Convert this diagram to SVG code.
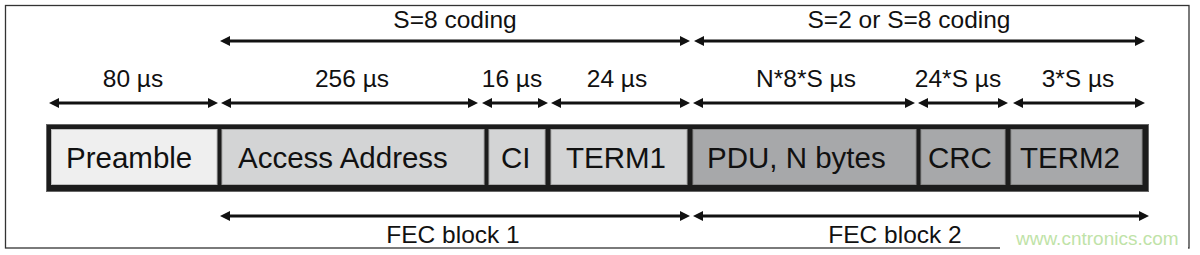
<svg xmlns="http://www.w3.org/2000/svg" width="1200" height="255" viewBox="0 0 1200 255">
<defs>
<marker id="ah" viewBox="0 0 10 10" refX="2" refY="5" markerWidth="10" markerHeight="10" markerUnits="userSpaceOnUse" orient="auto-start-reverse">
<path d="M0,0 L10,5 L0,10 z" fill="#111"/>
</marker>
<style>
.lbl{font-family:"Liberation Sans",Arial,sans-serif;font-size:24.5px;fill:#111;text-anchor:middle}
.cell{font-family:"Liberation Sans",Arial,sans-serif;font-size:29.5px;fill:#111}
.arr{stroke:#111;stroke-width:3;fill:none;marker-start:url(#ah);marker-end:url(#ah)}
.c1{fill:#efefef;stroke:#bdbdbd;stroke-width:1}
.c2{fill:#d3d4d5;stroke:#a9a9a9;stroke-width:1}
.c3{fill:#a7a8aa;stroke:#8a8a8a;stroke-width:1}
</style>
</defs>
<rect x="0" y="0" width="1200" height="255" fill="#fff"/>
<rect x="5.5" y="5.5" width="1183.5" height="242.5" fill="#fff" stroke="#333" stroke-width="1.3"/>

<rect x="46.5" y="124.5" width="1102" height="67" fill="#1c1c1c" stroke="#666" stroke-width="1"/>

<g id="preamble"><rect class="c1" x="51.5" y="129.5" width="165.5" height="55"/><text class="cell" x="66" y="168">Preamble</text></g>
<g id="access-address"><rect class="c2" x="222" y="129.5" width="262" height="55"/><text class="cell" x="238" y="168">Access Address</text></g>
<g id="ci"><rect class="c2" x="489" y="129.5" width="56" height="55"/><text class="cell" x="501" y="168">CI</text></g>
<g id="term1"><rect class="c2" x="551" y="129.5" width="136" height="55"/><text class="cell" x="566" y="168">TERM1</text></g>
<g id="pdu"><rect class="c3" x="693" y="129.5" width="223" height="55"/><text class="cell" x="707" y="168">PDU, N bytes</text></g>
<g id="crc"><rect class="c3" x="921" y="129.5" width="84" height="55"/><text class="cell" x="928" y="168">CRC</text></g>
<g id="term2"><rect class="c3" x="1011" y="129.5" width="131" height="55"/><text class="cell" x="1020" y="168">TERM2</text></g>

<g id="connectors">
<line class="arr" x1="228" y1="41" x2="682" y2="41"/>
<line class="arr" x1="702" y1="41" x2="1137" y2="41"/>
<line class="arr" x1="57" y1="103" x2="210" y2="103"/>
<line class="arr" x1="229" y1="103" x2="470" y2="103"/>
<line class="arr" x1="490" y1="103" x2="540" y2="103"/>
<line class="arr" x1="559" y1="103" x2="682" y2="103"/>
<line class="arr" x1="701" y1="103" x2="907" y2="103"/>
<line class="arr" x1="926" y1="103" x2="1000" y2="103"/>
<line class="arr" x1="1021" y1="103" x2="1137" y2="103"/>
<line class="arr" x1="228" y1="216" x2="682" y2="216"/>
<line class="arr" x1="701" y1="216" x2="1141" y2="216"/>
</g>

<g id="labels">
<text class="lbl" x="455" y="28">S=8 coding</text>
<text class="lbl" x="909" y="28">S=2 or S=8 coding</text>
<text class="lbl" x="133" y="87">80 µs</text>
<text class="lbl" x="352" y="87">256 µs</text>
<text class="lbl" x="512" y="87">16 µs</text>
<text class="lbl" x="617" y="87">24 µs</text>
<text class="lbl" x="806" y="87">N*8*S µs</text>
<text class="lbl" x="958" y="87">24*S µs</text>
<text class="lbl" x="1078" y="87">3*S µs</text>
<text class="lbl" x="453" y="243">FEC block 1</text>
<text class="lbl" x="895" y="243">FEC block 2</text>
</g>

<rect x="1000" y="227" width="188" height="28" fill="#fff"/>
<text x="1016" y="245" font-family="'Liberation Sans',Arial,sans-serif" font-size="19" fill="#bfe3a8">www.cntronics.com</text>
</svg>
